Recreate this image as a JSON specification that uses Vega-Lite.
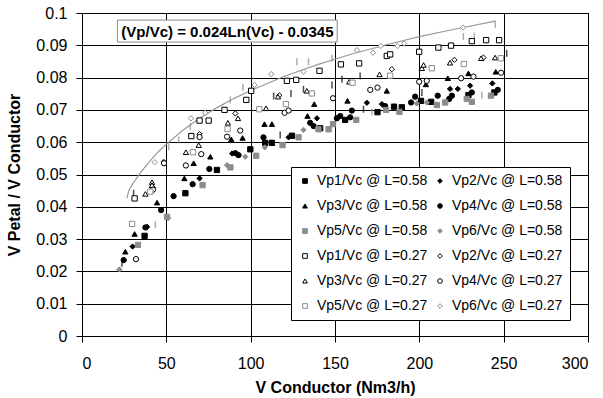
{
  "$schema": "https://vega.github.io/schema/vega-lite/v6.json",
  "width": 506,
  "height": 323,
  "autosize": {"type": "none"},
  "padding": {"left": 82, "top": 13, "right": 15, "bottom": 62},
  "background": "white",
  "datasets": {
    "pts": [
      {"s": "Vp1/Vc @ L=0.58", "x": 37.1, "y": 0.0310}, {"s": "Vp1/Vc @ L=0.58", "x": 61.3, "y": 0.0442}, {"s": "Vp1/Vc @ L=0.58", "x": 80, "y": 0.0514}, {"s": "Vp1/Vc @ L=0.58", "x": 99.8, "y": 0.0578}, {"s": "Vp1/Vc @ L=0.58", "x": 108.6, "y": 0.0598}, {"s": "Vp1/Vc @ L=0.58", "x": 112.6, "y": 0.0598}, {"s": "Vp1/Vc @ L=0.58", "x": 124.5, "y": 0.0620}, {"s": "Vp1/Vc @ L=0.58", "x": 141.2, "y": 0.0643}, {"s": "Vp1/Vc @ L=0.58", "x": 156, "y": 0.0669}, {"s": "Vp1/Vc @ L=0.58", "x": 175.2, "y": 0.0693}, {"s": "Vp1/Vc @ L=0.58", "x": 185, "y": 0.0710}, {"s": "Vp1/Vc @ L=0.58", "x": 189.6, "y": 0.0708}, {"s": "Vp1/Vc @ L=0.58", "x": 201, "y": 0.0728}, {"s": "Vp1/Vc @ L=0.58", "x": 207, "y": 0.0725}, {"s": "Vp1/Vc @ L=0.58", "x": 229.1, "y": 0.0746}, {"s": "Vp1/Vc @ L=0.58", "x": 244.5, "y": 0.0754},
      {"s": "Vp2/Vc @ L=0.58", "x": 30, "y": 0.0277}, {"s": "Vp2/Vc @ L=0.58", "x": 38.6, "y": 0.0338}, {"s": "Vp2/Vc @ L=0.58", "x": 69.7, "y": 0.0488}, {"s": "Vp2/Vc @ L=0.58", "x": 89, "y": 0.0565}, {"s": "Vp2/Vc @ L=0.58", "x": 122.5, "y": 0.0615}, {"s": "Vp2/Vc @ L=0.58", "x": 139.3, "y": 0.0674}, {"s": "Vp2/Vc @ L=0.58", "x": 168.9, "y": 0.0722}, {"s": "Vp2/Vc @ L=0.58", "x": 177.8, "y": 0.0718}, {"s": "Vp2/Vc @ L=0.58", "x": 218.2, "y": 0.0765}, {"s": "Vp2/Vc @ L=0.58", "x": 222.8, "y": 0.0765}, {"s": "Vp2/Vc @ L=0.58", "x": 230.1, "y": 0.0775}, {"s": "Vp2/Vc @ L=0.58", "x": 243.3, "y": 0.0782},
      {"s": "Vp3/Vc @ L=0.58", "x": 25.7, "y": 0.0261}, {"s": "Vp3/Vc @ L=0.58", "x": 31.2, "y": 0.0316}, {"s": "Vp3/Vc @ L=0.58", "x": 44.5, "y": 0.0413}, {"s": "Vp3/Vc @ L=0.58", "x": 60.7, "y": 0.0488}, {"s": "Vp3/Vc @ L=0.58", "x": 66.2, "y": 0.0535}, {"s": "Vp3/Vc @ L=0.58", "x": 76.1, "y": 0.0555}, {"s": "Vp3/Vc @ L=0.58", "x": 88.5, "y": 0.0609}, {"s": "Vp3/Vc @ L=0.58", "x": 95.2, "y": 0.0613}, {"s": "Vp3/Vc @ L=0.58", "x": 108.2, "y": 0.0656}, {"s": "Vp3/Vc @ L=0.58", "x": 112.6, "y": 0.0656}, {"s": "Vp3/Vc @ L=0.58", "x": 133.7, "y": 0.0681}, {"s": "Vp3/Vc @ L=0.58", "x": 137.7, "y": 0.0718}, {"s": "Vp3/Vc @ L=0.58", "x": 157.4, "y": 0.0728}, {"s": "Vp3/Vc @ L=0.58", "x": 180.7, "y": 0.0759}, {"s": "Vp3/Vc @ L=0.58", "x": 203.9, "y": 0.0779}, {"s": "Vp3/Vc @ L=0.58", "x": 216.9, "y": 0.0798}, {"s": "Vp3/Vc @ L=0.58", "x": 229.1, "y": 0.0813}, {"s": "Vp3/Vc @ L=0.58", "x": 245.3, "y": 0.0818},
      {"s": "Vp4/Vc @ L=0.58", "x": 24.7, "y": 0.0235}, {"s": "Vp4/Vc @ L=0.58", "x": 37.6, "y": 0.0336}, {"s": "Vp4/Vc @ L=0.58", "x": 46.9, "y": 0.0390}, {"s": "Vp4/Vc @ L=0.58", "x": 54.3, "y": 0.0433}, {"s": "Vp4/Vc @ L=0.58", "x": 65.6, "y": 0.0470}, {"s": "Vp4/Vc @ L=0.58", "x": 75.5, "y": 0.0517}, {"s": "Vp4/Vc @ L=0.58", "x": 90.9, "y": 0.0566}, {"s": "Vp4/Vc @ L=0.58", "x": 92.8, "y": 0.0560}, {"s": "Vp4/Vc @ L=0.58", "x": 107.6, "y": 0.0615}, {"s": "Vp4/Vc @ L=0.58", "x": 135.3, "y": 0.0660}, {"s": "Vp4/Vc @ L=0.58", "x": 137.3, "y": 0.0650}, {"s": "Vp4/Vc @ L=0.58", "x": 151.1, "y": 0.0674}, {"s": "Vp4/Vc @ L=0.58", "x": 153.1, "y": 0.0681}, {"s": "Vp4/Vc @ L=0.58", "x": 159, "y": 0.0677}, {"s": "Vp4/Vc @ L=0.58", "x": 160, "y": 0.0698}, {"s": "Vp4/Vc @ L=0.58", "x": 179.7, "y": 0.0712}, {"s": "Vp4/Vc @ L=0.58", "x": 195.1, "y": 0.0723}, {"s": "Vp4/Vc @ L=0.58", "x": 197.5, "y": 0.0741}, {"s": "Vp4/Vc @ L=0.58", "x": 210.9, "y": 0.0744}, {"s": "Vp4/Vc @ L=0.58", "x": 217.7, "y": 0.0734}, {"s": "Vp4/Vc @ L=0.58", "x": 219.3, "y": 0.0744}, {"s": "Vp4/Vc @ L=0.58", "x": 231.1, "y": 0.0754}, {"s": "Vp4/Vc @ L=0.58", "x": 246.5, "y": 0.0762},
      {"s": "Vp5/Vc @ L=0.58", "x": 33.2, "y": 0.0282}, {"s": "Vp5/Vc @ L=0.58", "x": 50.4, "y": 0.0369}, {"s": "Vp5/Vc @ L=0.58", "x": 71.5, "y": 0.0467}, {"s": "Vp5/Vc @ L=0.58", "x": 88, "y": 0.0522}, {"s": "Vp5/Vc @ L=0.58", "x": 103.3, "y": 0.0558}, {"s": "Vp5/Vc @ L=0.58", "x": 118.9, "y": 0.0591}, {"s": "Vp5/Vc @ L=0.58", "x": 128.4, "y": 0.0615}, {"s": "Vp5/Vc @ L=0.58", "x": 140.2, "y": 0.0640}, {"s": "Vp5/Vc @ L=0.58", "x": 146.2, "y": 0.0640}, {"s": "Vp5/Vc @ L=0.58", "x": 148.8, "y": 0.0656}, {"s": "Vp5/Vc @ L=0.58", "x": 162.6, "y": 0.0669}, {"s": "Vp5/Vc @ L=0.58", "x": 180.3, "y": 0.0700}, {"s": "Vp5/Vc @ L=0.58", "x": 188.2, "y": 0.0694}, {"s": "Vp5/Vc @ L=0.58", "x": 210.4, "y": 0.0715}, {"s": "Vp5/Vc @ L=0.58", "x": 215.3, "y": 0.0723}, {"s": "Vp5/Vc @ L=0.58", "x": 228.1, "y": 0.0734}, {"s": "Vp5/Vc @ L=0.58", "x": 231.1, "y": 0.0725}, {"s": "Vp5/Vc @ L=0.58", "x": 242.5, "y": 0.0744},
      {"s": "Vp6/Vc @ L=0.58", "x": 22.2, "y": 0.0206}, {"s": "Vp6/Vc @ L=0.58", "x": 51, "y": 0.0365}, {"s": "Vp6/Vc @ L=0.58", "x": 86, "y": 0.0529}, {"s": "Vp6/Vc @ L=0.58", "x": 96.8, "y": 0.0555}, {"s": "Vp6/Vc @ L=0.58", "x": 108.4, "y": 0.0584}, {"s": "Vp6/Vc @ L=0.58", "x": 131.3, "y": 0.0638}, {"s": "Vp6/Vc @ L=0.58", "x": 198.5, "y": 0.0720}, {"s": "Vp6/Vc @ L=0.58", "x": 204.4, "y": 0.0723},
      {"s": "Vp1/Vc @ L=0.27", "x": 31.2, "y": 0.0426}, {"s": "Vp1/Vc @ L=0.27", "x": 64.8, "y": 0.0619}, {"s": "Vp1/Vc @ L=0.27", "x": 69.7, "y": 0.0667}, {"s": "Vp1/Vc @ L=0.27", "x": 75.1, "y": 0.0667}, {"s": "Vp1/Vc @ L=0.27", "x": 84.5, "y": 0.0700}, {"s": "Vp1/Vc @ L=0.27", "x": 97.4, "y": 0.0731}, {"s": "Vp1/Vc @ L=0.27", "x": 100.3, "y": 0.0759}, {"s": "Vp1/Vc @ L=0.27", "x": 121.5, "y": 0.0790}, {"s": "Vp1/Vc @ L=0.27", "x": 127, "y": 0.0793}, {"s": "Vp1/Vc @ L=0.27", "x": 140.8, "y": 0.0821}, {"s": "Vp1/Vc @ L=0.27", "x": 153.5, "y": 0.0841}, {"s": "Vp1/Vc @ L=0.27", "x": 164.3, "y": 0.0844}, {"s": "Vp1/Vc @ L=0.27", "x": 180.7, "y": 0.0867}, {"s": "Vp1/Vc @ L=0.27", "x": 182.7, "y": 0.0872}, {"s": "Vp1/Vc @ L=0.27", "x": 199.9, "y": 0.0880}, {"s": "Vp1/Vc @ L=0.27", "x": 211.3, "y": 0.0893}, {"s": "Vp1/Vc @ L=0.27", "x": 218.8, "y": 0.0899}, {"s": "Vp1/Vc @ L=0.27", "x": 231.1, "y": 0.0913}, {"s": "Vp1/Vc @ L=0.27", "x": 239.6, "y": 0.0916}, {"s": "Vp1/Vc @ L=0.27", "x": 247.3, "y": 0.0916},
      {"s": "Vp2/Vc @ L=0.27", "x": 42.1, "y": 0.0459}, {"s": "Vp2/Vc @ L=0.27", "x": 48.4, "y": 0.0539}, {"s": "Vp2/Vc @ L=0.27", "x": 69.7, "y": 0.0625}, {"s": "Vp2/Vc @ L=0.27", "x": 90.9, "y": 0.0689}, {"s": "Vp2/Vc @ L=0.27", "x": 117, "y": 0.0745}, {"s": "Vp2/Vc @ L=0.27", "x": 183.7, "y": 0.0826}, {"s": "Vp2/Vc @ L=0.27", "x": 220.8, "y": 0.0855}, {"s": "Vp2/Vc @ L=0.27", "x": 238, "y": 0.0862},
      {"s": "Vp3/Vc @ L=0.27", "x": 37.6, "y": 0.0440}, {"s": "Vp3/Vc @ L=0.27", "x": 41.5, "y": 0.0476}, {"s": "Vp3/Vc @ L=0.27", "x": 41.5, "y": 0.0467}, {"s": "Vp3/Vc @ L=0.27", "x": 61.6, "y": 0.0569}, {"s": "Vp3/Vc @ L=0.27", "x": 69.2, "y": 0.0591}, {"s": "Vp3/Vc @ L=0.27", "x": 86.5, "y": 0.0660}, {"s": "Vp3/Vc @ L=0.27", "x": 92.5, "y": 0.0674}, {"s": "Vp3/Vc @ L=0.27", "x": 109.1, "y": 0.0705}, {"s": "Vp3/Vc @ L=0.27", "x": 116.2, "y": 0.0741}, {"s": "Vp3/Vc @ L=0.27", "x": 133.3, "y": 0.0759}, {"s": "Vp3/Vc @ L=0.27", "x": 158.4, "y": 0.0787}, {"s": "Vp3/Vc @ L=0.27", "x": 176.4, "y": 0.0810}, {"s": "Vp3/Vc @ L=0.27", "x": 201.5, "y": 0.0829}, {"s": "Vp3/Vc @ L=0.27", "x": 202.5, "y": 0.0839}, {"s": "Vp3/Vc @ L=0.27", "x": 218.2, "y": 0.0846}, {"s": "Vp3/Vc @ L=0.27", "x": 236.6, "y": 0.0860}, {"s": "Vp3/Vc @ L=0.27", "x": 244.9, "y": 0.0862},
      {"s": "Vp4/Vc @ L=0.27", "x": 32, "y": 0.0238}, {"s": "Vp4/Vc @ L=0.27", "x": 42.1, "y": 0.0453}, {"s": "Vp4/Vc @ L=0.27", "x": 48.6, "y": 0.0535}, {"s": "Vp4/Vc @ L=0.27", "x": 61.6, "y": 0.0528}, {"s": "Vp4/Vc @ L=0.27", "x": 69.7, "y": 0.0616}, {"s": "Vp4/Vc @ L=0.27", "x": 70.7, "y": 0.0563}, {"s": "Vp4/Vc @ L=0.27", "x": 86, "y": 0.0617}, {"s": "Vp4/Vc @ L=0.27", "x": 93.8, "y": 0.0636}, {"s": "Vp4/Vc @ L=0.27", "x": 120.1, "y": 0.0691}, {"s": "Vp4/Vc @ L=0.27", "x": 122.5, "y": 0.0698}, {"s": "Vp4/Vc @ L=0.27", "x": 148.8, "y": 0.0736}, {"s": "Vp4/Vc @ L=0.27", "x": 170.9, "y": 0.0762}, {"s": "Vp4/Vc @ L=0.27", "x": 175.2, "y": 0.0769}, {"s": "Vp4/Vc @ L=0.27", "x": 199.9, "y": 0.0787}, {"s": "Vp4/Vc @ L=0.27", "x": 204.4, "y": 0.0790}, {"s": "Vp4/Vc @ L=0.27", "x": 224.8, "y": 0.0798}, {"s": "Vp4/Vc @ L=0.27", "x": 232.1, "y": 0.0803}, {"s": "Vp4/Vc @ L=0.27", "x": 248.5, "y": 0.0815},
      {"s": "Vp5/Vc @ L=0.27", "x": 29.7, "y": 0.0347}, {"s": "Vp5/Vc @ L=0.27", "x": 40.5, "y": 0.0447}, {"s": "Vp5/Vc @ L=0.27", "x": 65.8, "y": 0.0569}, {"s": "Vp5/Vc @ L=0.27", "x": 86.3, "y": 0.0641}, {"s": "Vp5/Vc @ L=0.27", "x": 105.1, "y": 0.0702}, {"s": "Vp5/Vc @ L=0.27", "x": 120.9, "y": 0.0718}, {"s": "Vp5/Vc @ L=0.27", "x": 136.3, "y": 0.0751}, {"s": "Vp5/Vc @ L=0.27", "x": 160.4, "y": 0.0784}, {"s": "Vp5/Vc @ L=0.27", "x": 182.7, "y": 0.0806}, {"s": "Vp5/Vc @ L=0.27", "x": 207.4, "y": 0.0829}, {"s": "Vp5/Vc @ L=0.27", "x": 226.4, "y": 0.0842}, {"s": "Vp5/Vc @ L=0.27", "x": 248.3, "y": 0.0860},
      {"s": "Vp6/Vc @ L=0.27", "x": 43.1, "y": 0.0538}, {"s": "Vp6/Vc @ L=0.27", "x": 64.6, "y": 0.0674}, {"s": "Vp6/Vc @ L=0.27", "x": 73.1, "y": 0.0691}, {"s": "Vp6/Vc @ L=0.27", "x": 102.3, "y": 0.0777}, {"s": "Vp6/Vc @ L=0.27", "x": 112.2, "y": 0.0811}, {"s": "Vp6/Vc @ L=0.27", "x": 131.4, "y": 0.0818}, {"s": "Vp6/Vc @ L=0.27", "x": 163, "y": 0.0885}, {"s": "Vp6/Vc @ L=0.27", "x": 172.5, "y": 0.0877}, {"s": "Vp6/Vc @ L=0.27", "x": 177.2, "y": 0.0898}, {"s": "Vp6/Vc @ L=0.27", "x": 187, "y": 0.0898}, {"s": "Vp6/Vc @ L=0.27", "x": 191, "y": 0.0906}, {"s": "Vp6/Vc @ L=0.27", "x": 226, "y": 0.0955}
    ],
    "trend": [
      {"x": 26.6, "y": 0.0426}, {"x": 27.7, "y": 0.0449}, {"x": 30, "y": 0.0471}, {"x": 35, "y": 0.0508}, {"x": 40, "y": 0.0540}, {"x": 45, "y": 0.0569}, {"x": 50, "y": 0.0594}, {"x": 60, "y": 0.0638}, {"x": 70, "y": 0.0675}, {"x": 80, "y": 0.0707}, {"x": 90, "y": 0.0735}, {"x": 100, "y": 0.0760}, {"x": 120, "y": 0.0804}, {"x": 140, "y": 0.0841}, {"x": 160, "y": 0.0873}, {"x": 180, "y": 0.0901}, {"x": 200, "y": 0.0927}, {"x": 220, "y": 0.0949}, {"x": 245, "y": 0.0975}
    ],
    "barsK": [
      {"x": 23.7, "y": 0.0225}, {"x": 30.6, "y": 0.0442}, {"x": 113.6, "y": 0.0743}, {"x": 117.5, "y": 0.0622}, {"x": 123.9, "y": 0.0751}, {"x": 131.3, "y": 0.0764}, {"x": 148.2, "y": 0.0777}, {"x": 154.1, "y": 0.0795}, {"x": 164.9, "y": 0.0805}, {"x": 166.9, "y": 0.0702}, {"x": 201.5, "y": 0.0754}, {"x": 251.8, "y": 0.0875}
    ],
    "barsG": [
      {"x": 43.5, "y": 0.0344}, {"x": 51.4, "y": 0.0586}, {"x": 57.3, "y": 0.0607}, {"x": 64.2, "y": 0.0648}, {"x": 87.9, "y": 0.0731}, {"x": 95.4, "y": 0.0770}, {"x": 127.4, "y": 0.0849}, {"x": 134.3, "y": 0.0849}, {"x": 148.2, "y": 0.0860}, {"x": 171.9, "y": 0.0694}, {"x": 226.1, "y": 0.0927}, {"x": 232.6, "y": 0.0929}, {"x": 237, "y": 0.0746}, {"x": 245, "y": 0.0965}
    ],
    "note": [
      {"x": 21, "x2": 151.3, "y": 0.0978, "y2": 0.0910, "tx": 86.2, "ty": 0.0940, "label": "(Vp/Vc) = 0.024Ln(Vc) - 0.0345"}
    ]
  },
  "encoding": {
    "x": {"field": "x", "type": "quantitative", "scale": {"domain": [0, 300], "nice": false, "zero": false},
      "axis": {"values": [0, 50, 100, 150, 200, 250, 300], "title": "V Conductor (Nm3/h)", "labelPadding": 13, "titlePadding": 8}},
    "y": {"field": "y", "type": "quantitative", "scale": {"domain": [0, 0.1], "nice": false, "zero": false},
      "axis": {"values": [0, 0.01, 0.02, 0.03, 0.04, 0.05, 0.06, 0.07, 0.08, 0.09, 0.1], "format": ".2~f", "title": "V Petal / V Conductor", "labelPadding": 9, "titlePadding": 13}}
  },
  "layer": [
    {"data": {"name": "trend"}, "mark": {"type": "line", "color": "#999999", "strokeWidth": 1.2}, "encoding": {}},
    {"data": {"name": "barsG"}, "mark": {"type": "tick", "orient": "vertical", "color": "#8c8c8c", "size": 7, "thickness": 1.5}, "encoding": {}},
    {"data": {"name": "barsK"}, "mark": {"type": "tick", "orient": "vertical", "color": "#000000", "size": 7, "thickness": 1.5}, "encoding": {}},
    {"data": {"name": "pts"}, "mark": {"type": "point", "size": 28, "strokeWidth": 1, "opacity": 1},
      "encoding": {
        "shape": {"field": "s", "type": "nominal", "legend": {"title": null},
          "scale": {"domain": ["Vp1/Vc @ L=0.58", "Vp3/Vc @ L=0.58", "Vp5/Vc @ L=0.58", "Vp1/Vc @ L=0.27", "Vp3/Vc @ L=0.27", "Vp5/Vc @ L=0.27", "Vp2/Vc @ L=0.58", "Vp4/Vc @ L=0.58", "Vp6/Vc @ L=0.58", "Vp2/Vc @ L=0.27", "Vp4/Vc @ L=0.27", "Vp6/Vc @ L=0.27"],
            "range": ["square", "triangle-up", "square", "square", "triangle-up", "square", "diamond", "circle", "diamond", "diamond", "circle", "diamond"]}},
        "fill": {"field": "s", "type": "nominal", "legend": {"title": null},
          "scale": {"domain": ["Vp1/Vc @ L=0.58", "Vp3/Vc @ L=0.58", "Vp5/Vc @ L=0.58", "Vp1/Vc @ L=0.27", "Vp3/Vc @ L=0.27", "Vp5/Vc @ L=0.27", "Vp2/Vc @ L=0.58", "Vp4/Vc @ L=0.58", "Vp6/Vc @ L=0.58", "Vp2/Vc @ L=0.27", "Vp4/Vc @ L=0.27", "Vp6/Vc @ L=0.27"],
            "range": ["#000000", "#000000", "#8c8c8c", "#ffffff", "#ffffff", "#ffffff", "#000000", "#000000", "#8c8c8c", "#ffffff", "#ffffff", "#ffffff"]}},
        "stroke": {"field": "s", "type": "nominal", "legend": {"title": null},
          "scale": {"domain": ["Vp1/Vc @ L=0.58", "Vp3/Vc @ L=0.58", "Vp5/Vc @ L=0.58", "Vp1/Vc @ L=0.27", "Vp3/Vc @ L=0.27", "Vp5/Vc @ L=0.27", "Vp2/Vc @ L=0.58", "Vp4/Vc @ L=0.58", "Vp6/Vc @ L=0.58", "Vp2/Vc @ L=0.27", "Vp4/Vc @ L=0.27", "Vp6/Vc @ L=0.27"],
            "range": ["#000000", "#000000", "#8c8c8c", "#000000", "#000000", "#8c8c8c", "#000000", "#000000", "#8c8c8c", "#000000", "#000000", "#8c8c8c"]}}
      }},
    {"data": {"name": "note"}, "mark": {"type": "rect", "fill": "#ffffff", "stroke": "#8c8c8c", "strokeWidth": 1},
      "encoding": {"x2": {"field": "x2"}, "y2": {"field": "y2"}}},
    {"data": {"name": "note"}, "mark": {"type": "text", "font": "Liberation Sans", "fontSize": 15, "fontWeight": "bold", "color": "#000000", "align": "center", "baseline": "middle"},
      "encoding": {"x": {"field": "tx", "type": "quantitative"}, "y": {"field": "ty", "type": "quantitative"}, "text": {"field": "label"}}}
  ],
  "config": {
    "font": "Liberation Sans",
    "view": {"stroke": "#000000", "strokeWidth": 1},
    "axis": {"grid": true, "gridColor": "#000000", "gridOpacity": 1, "gridWidth": 1, "domainColor": "#000000", "domainWidth": 1, "tickColor": "#000000", "tickSize": 6, "tickWidth": 1,
      "labelFont": "Liberation Sans", "labelFontSize": 16, "labelColor": "#000000", "titleFont": "Liberation Sans", "titleFontSize": 16, "titleFontWeight": "bold", "titleColor": "#000000"},
    "legend": {"orient": "none", "legendX": 209, "legendY": 154, "columns": 2, "strokeColor": "#000000", "fillColor": "#ffffff", "padding": 7, "rowPadding": 11, "columnPadding": 5,
      "labelFont": "Liberation Sans", "labelFontSize": 14, "labelColor": "#000000", "labelLimit": 0, "labelOffset": 5, "symbolSize": 22, "symbolStrokeWidth": 1}
  }
}
